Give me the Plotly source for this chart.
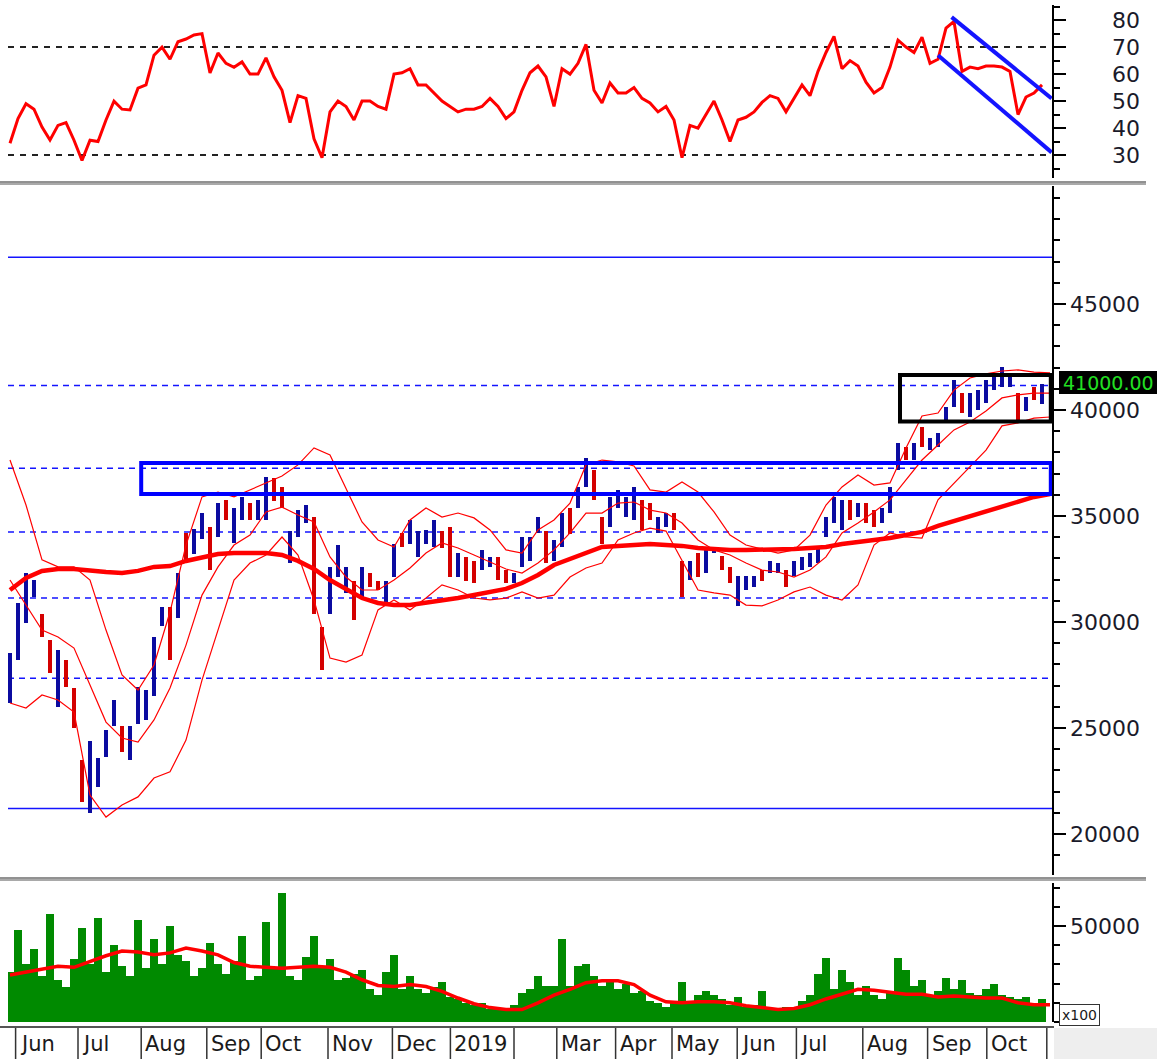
import plotly.graph_objects as go

# ---------------- data ----------------
month_labels = ["Jun", "Jul", "Aug", "Sep", "Oct", "Nov", "Dec", "2019", "", "Mar",
                "Apr", "May", "Jun", "Jul", "Aug", "Sep", "Oct", ""]
month_starts = [0.7, 8.5, 16.4, 24.6, 31.4, 39.75, 47.8, 55.05, 63.0, 68.35,
                75.7, 82.75, 90.9, 98.3, 106.6, 114.7, 122.1, 129.6]

price_high = [28550, 30900, 32300, 32000, 30400, 29150, 28700, 28200, 26900, 23500,
              24400, 23600, 24900, 26300, 25100, 25100, 26950, 26800, 29300, 30700,
              30700, 32300, 34200, 34400, 35150, 34500, 35600, 35750, 35400, 35900,
              35600, 35750, 36850, 36800, 36350, 34300, 35300, 35500, 34950, 29750,
              32600, 33650, 32600, 31950, 32600, 32300, 31950, 31950, 33700, 34200,
              34800, 34300, 34350, 34800, 34300, 34500, 33250, 33050, 32900, 33400,
              33050, 33050, 32450, 32300, 34000, 34000, 34950, 34300, 33850, 35150,
              35400, 36350, 37750, 37150, 34950, 35900, 36250, 35900, 36350, 35750,
              35600, 34950, 35150, 35150, 32900, 32900, 33250, 33400, 33550, 33100,
              32600, 32150, 32150, 32150, 32450, 32900, 32800, 32450, 32900, 33050,
              33250, 33550, 34950, 35900, 35750, 35750, 35600, 35600, 35300, 35400,
              36350, 38450, 38250, 38450, 39200, 38700, 38900, 40150, 41400, 40800,
              40800, 40950, 41400, 41750, 42050, 41750, 40800, 40600, 41100, 41250]
price_low = [26200, 28200, 29950, 31200, 29300, 27600, 26000, 26950, 25000, 21500,
             21000, 22200, 23650, 25100, 23850, 23500, 25200, 25400, 26500, 29800,
             28200, 30200, 32800, 33200, 33900, 32450, 34000, 34800, 33750, 34800,
             34800, 34800, 34800, 35700, 35400, 32800, 34000, 34650, 30400, 27750,
             30400, 32100, 31350, 30100, 31200, 31650, 31500, 30850, 32100, 33550,
             33700, 33050, 33700, 33550, 33500, 32100, 32100, 31950, 31850, 32450,
             32600, 32000, 31850, 31850, 32600, 32900, 34200, 32800, 32900, 33550,
             34150, 35400, 36350, 35750, 33700, 34500, 35400, 34950, 34800, 34350,
             34800, 34200, 34500, 34350, 31200, 32000, 32100, 32300, 33250, 32450,
             31850, 30750, 31500, 31650, 31950, 32300, 32300, 31650, 32150, 32450,
             32600, 32800, 34000, 34650, 34350, 34800, 34950, 34650, 34500, 34650,
             35150, 37150, 37650, 37650, 38250, 38100, 38250, 39400, 40150, 39850,
             39650, 40000, 40350, 40950, 41100, 41100, 39400, 39950, 40450, 40300]
price_close = [28300, 30500, 32000, 31800, 29500, 27800, 28300, 27100, 25200, 21800,
               23800, 23300, 24700, 26000, 24000, 24900, 26800, 26500, 29000, 30500,
               28600, 32000, 33100, 34200, 35000, 32700, 35400, 35000, 35200, 35700,
               34900, 35600, 36500, 35900, 35500, 34000, 35100, 35400, 30900, 28000,
               32300, 33400, 32400, 30400, 32400, 31700, 31550, 31800, 33500, 33600,
               34600, 34000, 34200, 34600, 33600, 32600, 33000, 32100, 32000, 33300,
               32950, 32100, 31900, 32200, 33800, 33900, 34800, 33000, 33700, 35000,
               34300, 36200, 37600, 35900, 33900, 35700, 36000, 35700, 36100, 34500,
               34900, 34850, 35000, 34400, 31400, 32800, 32200, 33300, 33500, 32500,
               31900, 31900, 32000, 32100, 32000, 32800, 32700, 31700, 32850, 32950,
               33150, 33450, 34850, 35800, 35600, 34900, 35500, 34700, 34550, 35300,
               36250, 38300, 37700, 38400, 38300, 38600, 38800, 40050, 41300, 39900,
               40700, 40850, 41300, 41650, 41950, 41650, 39600, 40500, 40500, 41000]

bb_upper = [37640, 35520, 32930, 32600, 32600, 31980, 29620, 27500, 26790, 27970,
            30470, 33630, 35900, 36130, 35900, 36230, 36560, 36890, 37410, 38210,
            37880, 36320, 34720, 33870, 33540, 34810, 35380, 34950, 35140, 34910,
            34340, 33400, 33250, 34340, 34810, 35610, 37410, 37640, 37550, 37360,
            36230, 36130, 36600, 36130, 35190, 34100, 33630, 33440, 33250, 33400,
            34100, 35520, 36370, 36930, 36460, 36560, 38210, 39720, 39860, 40940,
            41510, 41700, 41840, 41890, 41790, 41750]
bb_middle = [31980, 30800, 29620, 29290, 28770, 27030, 25280, 24530, 24340, 25380,
             26890, 28910, 31270, 32600, 33630, 34100, 35190, 35420, 35050, 34720,
             33070, 32120, 31510, 31510, 31980, 32550, 33250, 33730, 33490, 33160,
             32830, 32500, 32310, 32780, 33400, 34200, 35140, 35140, 35610, 35660,
             35280, 35140, 34670, 33870, 33400, 33160, 32780, 32450, 32360, 32120,
             32450, 33070, 34200, 34670, 35190, 35760, 36700, 37640, 38350, 39060,
             39430, 39950, 40570, 40710, 40800, 40800]
bb_lower = [26180, 25940, 26560, 26320, 25750, 21840, 20800, 21370, 21750, 22640,
            22930, 24430, 27260, 29620, 31980, 32780, 33160, 34010, 33160, 31040,
            28300, 28110, 28440, 30570, 31040, 30570, 31130, 31750, 31510, 31130,
            31040, 31130, 31420, 31130, 31270, 32120, 32550, 32780, 33870, 34200,
            34430, 34290, 32930, 31510, 31370, 31270, 30800, 30760, 31040, 31420,
            31650, 31270, 31040, 31750, 33630, 34200, 34010, 33960, 35760, 36560,
            37310, 38110, 39250, 39390, 39620, 39670]
ma_long = [31510, 32080, 32410, 32500, 32500, 32410, 32360, 32310, 32410, 32600,
           32640, 32880, 33070, 33210, 33250, 33250, 33250, 33160, 32880, 32500,
           31980, 31560, 31130, 30900, 30800, 30800, 30900, 31040, 31130, 31270,
           31420, 31560, 31840, 32220, 32690, 32970, 33300, 33540, 33590, 33630,
           33680, 33630, 33590, 33490, 33440, 33400, 33400, 33400, 33440, 33440,
           33490, 33540, 33680, 33770, 33870, 33960, 34100, 34250, 34530, 34760,
           35000, 35240, 35470, 35710, 35900, 36040]

rsi = [34.4, 43.5, 49, 47, 40.4, 35.6, 41, 42, 35.5, 28,
       35.5, 35, 43, 50, 47, 46.7, 54.8, 56, 67, 70,
       65.5, 72, 73, 74.5, 75, 60.4, 67.8, 64, 62.5, 64.5,
       60, 60, 66, 59, 54, 42, 52, 51, 36, 29,
       46, 50, 48, 43, 50, 50, 48, 47, 60, 60.5,
       62, 56, 56, 53, 50, 48, 46, 47, 47, 48,
       51, 48, 43.5, 46, 54, 60.5, 63, 59, 48, 62,
       60, 64, 71, 54, 49.3, 56.7, 53, 53, 55, 51,
       49.3, 46, 48, 43, 29, 41, 40, 45, 50, 43,
       35, 43, 44, 46, 49.5, 52, 51, 46, 51, 56,
       52, 61, 68, 74, 62, 65, 63, 57, 53, 55,
       62.6, 72.6, 70, 68, 73.7, 64, 65.5, 77, 79.5, 61,
       62.6, 62, 63, 63, 62.6, 61, 45, 51.5, 53, 56]

volume = [26000, 48000, 30000, 38000, 24000, 56000, 22000, 18000, 33000, 49000,
          30000, 54000, 26000, 40000, 29000, 24000, 53000, 28000, 43000, 30000,
          50000, 35000, 32000, 24000, 28000, 41000, 30000, 25000, 32000, 45000,
          22000, 24000, 52000, 28000, 67000, 24000, 22000, 34000, 45000, 28000,
          33000, 22000, 23000, 25000, 27000, 17000, 14000, 26000, 35000, 17000,
          24000, 17000, 15000, 18000, 21000, 13000, 12000, 10000, 9000, 10000,
          7000, 7000, 7000, 9000, 15000, 17000, 24000, 19000, 19000, 43000,
          19000, 29000, 30000, 24000, 19000, 22000, 17000, 20000, 15000, 16000,
          11000, 10000, 8000, 10000, 20600, 11000, 14000, 16000, 14000, 12000,
          9000, 13000, 8000, 9000, 16000, 7000, 6000, 8000, 7000, 11000,
          14000, 25000, 33500, 17000, 27000, 21000, 14000, 19000, 14000, 12000,
          16000, 33500, 27000, 19000, 22000, 14000, 16000, 23000, 17000, 22000,
          15000, 14000, 17000, 20000, 14000, 13000, 12000, 13000, 10000, 12000]
volume_ma = [24500, 26000, 27500, 29000, 28500, 31500, 34500, 37000, 36500, 35000,
             36000, 38500, 37000, 35000, 31000, 29000, 28500, 28000, 28500, 29000,
             28500, 26000, 22000, 19000, 18500, 19500, 18500, 16000, 12500, 9500,
             7500, 6500, 6500, 10000, 14000, 17000, 20500, 21500, 21500, 19500,
             14000, 10500, 10000, 10500, 10500, 10000, 8500, 7500, 6500, 7000,
             9000, 12000, 14500, 17000, 16500, 15500, 14500, 14500, 13000, 13500,
             13000, 12500, 12500, 10000, 9000, 9000]

price_ticks = [20000, 25000, 30000, 35000, 40000, 45000]
rsi_ticks = [30, 40, 50, 60, 70, 80]
volume_ticks = [50000]

levels_solid = [47200, 21200]
levels_dashed = [41150, 37250, 34250, 31130, 27350]
zone_blue = [16.4, 36040, 37500]
zone_black = [111.25, 39460, 41650]
rsi_levels = [70, 30]
rsi_channel_upper = [[117.7, 130.2], [81.1, 51.0]]
rsi_channel_lower = [[116.0, 130.2], [67.0, 31.0]]
last_price_label = "41000.00"

# ---------------- figure ----------------
n = len(price_close)
idx = list(range(n))
line_idx = [2 * k for k in range(len(bb_upper))]
XR = [-0.25, 130.25]
BLUE_BAR = "#0b0ba0"
RED_BAR = "#d40000"
RED = "#ff0000"
BLUE = "#1414ff"

bar_colors = [BLUE_BAR if c >= (h + l) / 2 else RED_BAR
              for h, l, c in zip(price_high, price_low, price_close)]

fig = go.Figure()

# price bars
fig.add_trace(go.Bar(x=idx, y=[h - l for h, l in zip(price_high, price_low)], base=price_low,
                     marker=dict(color=bar_colors, line=dict(width=0)), width=0.5,
                     xaxis="x2", yaxis="y2", showlegend=False))
# bollinger bands
for arr in (bb_upper, bb_middle, bb_lower):
    fig.add_trace(go.Scatter(x=line_idx, y=arr, mode="lines", line=dict(color=RED, width=1.2),
                             xaxis="x2", yaxis="y2", showlegend=False))
# long moving average
fig.add_trace(go.Scatter(x=line_idx, y=ma_long, mode="lines", line=dict(color=RED, width=4.5),
                         xaxis="x2", yaxis="y2", showlegend=False))

# RSI
fig.add_trace(go.Scatter(x=idx, y=rsi, mode="lines", line=dict(color=RED, width=3),
                         xaxis="x3", yaxis="y3", showlegend=False))
for ch in (rsi_channel_upper, rsi_channel_lower):
    fig.add_trace(go.Scatter(x=ch[0], y=ch[1], mode="lines", line=dict(color=BLUE, width=4),
                             xaxis="x3", yaxis="y3", showlegend=False))

# volume
fig.add_trace(go.Bar(x=idx, y=volume, marker=dict(color="#008a00", line=dict(width=0)), width=0.9,
                     xaxis="x", yaxis="y", showlegend=False))
fig.add_trace(go.Scatter(x=line_idx, y=volume_ma, mode="lines", line=dict(color=RED, width=3.5),
                         xaxis="x", yaxis="y", showlegend=False))

# ---------------- shapes ----------------
shapes = []
for v in levels_solid:
    shapes.append(dict(type="line", xref="paper", yref="y2", x0=0, x1=1, y0=v, y1=v,
                       line=dict(color=BLUE, width=1.5), layer="below"))
for v in levels_dashed:
    shapes.append(dict(type="line", xref="paper", yref="y2", x0=0, x1=1, y0=v, y1=v,
                       line=dict(color=BLUE, width=1.5, dash="6px,5px"), layer="below"))
for v in rsi_levels:
    shapes.append(dict(type="line", xref="paper", yref="y3", x0=0, x1=1, y0=v, y1=v,
                       line=dict(color="#222222", width=2, dash="6px,6px"), layer="below"))
shapes.append(dict(type="rect", xref="x2", yref="y2", x0=zone_blue[0], x1=130.1,
                   y0=zone_blue[1], y1=zone_blue[2], line=dict(color="#0000ff", width=4)))
shapes.append(dict(type="rect", xref="x2", yref="y2", x0=zone_black[0], x1=130.1,
                   y0=zone_black[1], y1=zone_black[2], line=dict(color="#000000", width=4)))

W, H = 1157, 1059
ML, MR, MT, MB = 8, 105, 5, 37
PW, PH = W - ML - MR, H - MT - MB


def px(xp):
    return (xp - ML) / PW


def py(yp):
    return (H - MB - yp) / PH


# panel separators
for y0, y1 in ((181, 185), (877, 881)):
    shapes.append(dict(type="rect", xref="paper", yref="paper", x0=px(0), x1=px(1146),
                       y0=py(y1), y1=py(y0), fillcolor="#a9a9a9", line=dict(width=0)))
    shapes.append(dict(type="line", xref="paper", yref="paper", x0=px(0), x1=px(1146),
                       y0=py(y0 + 1), y1=py(y0 + 1), line=dict(color="#7a7a7a", width=1)))
# bottom right grey area
shapes.append(dict(type="rect", xref="paper", yref="paper", x0=px(1054), x1=px(1160),
                   y0=py(1062), y1=py(1028), fillcolor="#eeeeee", line=dict(width=0)))
# label row top line
shapes.append(dict(type="line", xref="paper", yref="paper", x0=px(0), x1=px(1054),
                   y0=py(1027), y1=py(1027), line=dict(color="#555555", width=2)))
# month separators
for m in month_starts:
    shapes.append(dict(type="line", xref="x", yref="paper", x0=m, x1=m,
                       y0=py(1028), y1=py(1062), line=dict(color="#333333", width=1.5)))
# last price box
shapes.append(dict(type="rect", xref="paper", yref="paper", x0=px(1059), x1=px(1160),
                   y0=py(394), y1=py(371), fillcolor="#000000", line=dict(width=0)))

# ---------------- annotations ----------------
FONT = "DejaVu Sans"
ann = []
for m, lab in zip(month_starts, month_labels):
    if lab:
        ann.append(dict(x=m, xref="x", y=py(1030), yref="paper", text=lab, showarrow=False,
                        xanchor="left", yanchor="top", xshift=2,
                        font=dict(family=FONT, size=21, color="#1a1a1a")))
lab_x = px(1142)
for t in price_ticks:
    ann.append(dict(x=lab_x, xref="paper", y=t, yref="y2", text=str(t), showarrow=False,
                    xanchor="right", yanchor="middle",
                    font=dict(family=FONT, size=22, color="#1a1a2a")))
for t in rsi_ticks:
    ann.append(dict(x=lab_x, xref="paper", y=t, yref="y3", text=str(t), showarrow=False,
                    xanchor="right", yanchor="middle",
                    font=dict(family=FONT, size=22, color="#1a1a2a")))
for t in volume_ticks:
    ann.append(dict(x=lab_x, xref="paper", y=t, yref="y", text=str(t), showarrow=False,
                    xanchor="right", yanchor="middle",
                    font=dict(family=FONT, size=22, color="#1a1a2a")))
ann.append(dict(x=px(1061), xref="paper", y=py(383), yref="paper", text=last_price_label,
                showarrow=False, xanchor="left", yanchor="middle",
                font=dict(family=FONT, size=19, color="#22e022")))
ann.append(dict(x=px(1079), xref="paper", y=py(1015), yref="paper", text="x100",
                showarrow=False, xanchor="center", yanchor="middle",
                bordercolor="#333333", borderwidth=1, borderpad=2, bgcolor="#ffffff",
                font=dict(family=FONT, size=14, color="#1a1a1a")))

xcommon = dict(range=XR, showticklabels=False, showgrid=False, zeroline=False,
               showline=False, ticks="", fixedrange=True)


def yaxis(domain, rng, anchor, tickvals, minor_dtick):
    return dict(domain=domain, range=rng, anchor=anchor, side="right",
                showgrid=False, zeroline=False, showline=True, linecolor="#000000",
                linewidth=2, ticks="outside", ticklen=12, tickwidth=2, tickcolor="#000000",
                tickmode="array", tickvals=tickvals, showticklabels=False,
                minor=dict(ticks="outside", ticklen=6, tickwidth=1.5, tickcolor="#000000",
                           tickmode="linear", tick0=0, dtick=minor_dtick, showgrid=False))


fig.update_layout(
    width=W, height=H,
    margin=dict(l=ML, r=MR, t=MT, b=MB),
    paper_bgcolor="#ffffff", plot_bgcolor="#ffffff",
    barmode="overlay", bargap=0,
    showlegend=False,
    xaxis=dict(domain=[0, 1], anchor="y", **xcommon),
    xaxis2=dict(domain=[0, 1], anchor="y2", **xcommon),
    xaxis3=dict(domain=[0, 1], anchor="y3", **xcommon),
    yaxis=yaxis([0, py(883)], [0, 72400], "x", volume_ticks, 10000),
    yaxis2=yaxis([py(875), py(186)], [18066, 50566], "x2", price_ticks, 1000),
    yaxis3=yaxis([py(178), 1], [21.5, 85.6], "x3", rsi_ticks, 5),
    shapes=shapes,
    annotations=ann,
)

fig.write_html("out.html", config={"displayModeBar": False},
               post_script="document.body.style.margin='0';document.body.style.overflow='hidden';")
